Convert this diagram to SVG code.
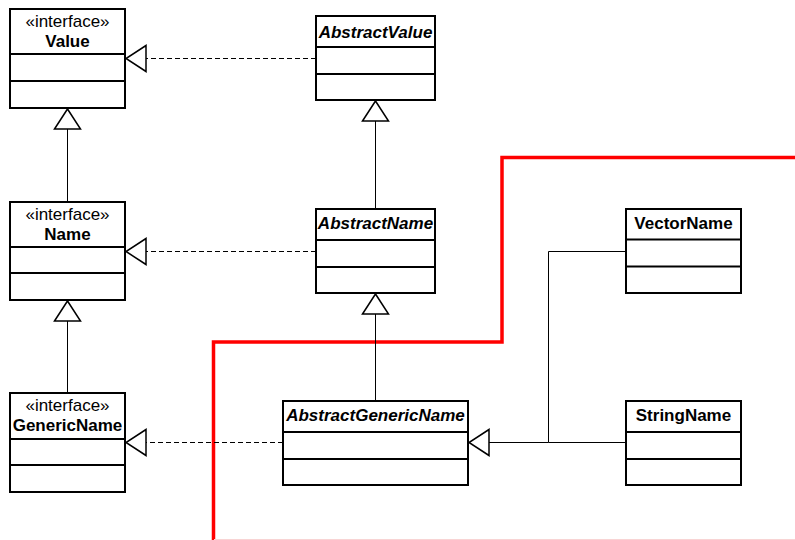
<svg xmlns="http://www.w3.org/2000/svg" width="795" height="540" viewBox="0 0 795 540">
  <style>
    .box { fill: #ffffff; stroke: #000000; stroke-width: 2; }
    .div { stroke: #000000; stroke-width: 2; }
    .stereo { font-family: "Liberation Sans", Arial, sans-serif; font-size: 17px; text-anchor: middle; fill: #000; }
    .name { font-family: "Liberation Sans", Arial, sans-serif; font-size: 17px; font-weight: bold; text-anchor: middle; fill: #000; }
    .abstract { font-style: italic; }
    .gen { fill: none; stroke: #000000; stroke-width: 1; }
    .real { fill: none; stroke: #000000; stroke-width: 1; stroke-dasharray: 5 3; }
    .bound { fill: none; stroke: #ff0000; stroke-width: 3.5; }
  </style>
  <defs>
    <marker id="hollow" viewBox="0 0 20 26" refX="20" refY="13" markerWidth="20" markerHeight="26" markerUnits="userSpaceOnUse" orient="auto" overflow="visible">
      <path d="M0,0 L20,13 L0,26 Z" fill="#ffffff" stroke="#000000" stroke-width="1.5" stroke-dasharray="none"/>
    </marker>
  </defs>

  <rect width="795" height="540" fill="#ffffff"/>

  <!-- package boundary -->
  <path class="bound" d="M213.5,540 V342 H502 V157.5 H795"/>
  <path d="M214,539.5 H795" fill="none" stroke="#f8d4d4" stroke-width="1"/>

  <g id="connectors">
    <!-- realizations -->
    <path class="real" d="M316,58.5 H126" marker-end="url(#hollow)"/>
    <path class="real" d="M316,251.5 H126" marker-end="url(#hollow)"/>
    <path class="real" d="M283,442.5 H126" marker-end="url(#hollow)"/>
    <!-- generalizations -->
    <path class="gen" d="M67.5,202 V109" marker-end="url(#hollow)"/>
    <path class="gen" d="M67.5,393 V301" marker-end="url(#hollow)"/>
    <path class="gen" d="M375.5,209 V101" marker-end="url(#hollow)"/>
    <path class="gen" d="M375.5,401 V294" marker-end="url(#hollow)"/>
    <path class="gen" d="M625,251.5 H548.5 V442.5 H469" marker-end="url(#hollow)"/>
    <path class="gen" d="M625,442.5 H548.5"/>
  </g>

  <g id="Value">
    <rect class="box" x="10" y="9" width="115" height="99"/>
    <line class="div" x1="10" y1="54" x2="125" y2="54"/>
    <line class="div" x1="10" y1="81" x2="125" y2="81"/>
    <text class="stereo" x="67.5" y="27">«interface»</text>
    <text class="name" x="67.5" y="47">Value</text>
  </g>

  <g id="Name">
    <rect class="box" x="10" y="202" width="115" height="98"/>
    <line class="div" x1="10" y1="247" x2="125" y2="247"/>
    <line class="div" x1="10" y1="273" x2="125" y2="273"/>
    <text class="stereo" x="67.5" y="220">«interface»</text>
    <text class="name" x="67.5" y="240">Name</text>
  </g>

  <g id="GenericName">
    <rect class="box" x="10" y="393" width="115" height="99"/>
    <line class="div" x1="10" y1="439" x2="125" y2="439"/>
    <line class="div" x1="10" y1="465" x2="125" y2="465"/>
    <text class="stereo" x="67.5" y="411">«interface»</text>
    <text class="name" x="67.5" y="431">GenericName</text>
  </g>

  <g id="AbstractValue">
    <rect class="box" x="316" y="16" width="119" height="84"/>
    <line class="div" x1="316" y1="47" x2="435" y2="47"/>
    <line class="div" x1="316" y1="74" x2="435" y2="74"/>
    <text class="name abstract" x="375.5" y="38">AbstractValue</text>
  </g>

  <g id="AbstractName">
    <rect class="box" x="316" y="209" width="119" height="84"/>
    <line class="div" x1="316" y1="240" x2="435" y2="240"/>
    <line class="div" x1="316" y1="267" x2="435" y2="267"/>
    <text class="name abstract" x="375.5" y="229">AbstractName</text>
  </g>

  <g id="AbstractGenericName">
    <rect class="box" x="283" y="401" width="185" height="84"/>
    <line class="div" x1="283" y1="432" x2="468" y2="432"/>
    <line class="div" x1="283" y1="459" x2="468" y2="459"/>
    <text class="name abstract" x="375.5" y="421">AbstractGenericName</text>
  </g>

  <g id="VectorName">
    <rect class="box" x="626" y="209" width="115" height="84"/>
    <line class="div" x1="626" y1="239.5" x2="741" y2="239.5"/>
    <line class="div" x1="626" y1="266.5" x2="741" y2="266.5"/>
    <text class="name" x="683.5" y="229">VectorName</text>
  </g>

  <g id="StringName">
    <rect class="box" x="626" y="401" width="115" height="84"/>
    <line class="div" x1="626" y1="432" x2="741" y2="432"/>
    <line class="div" x1="626" y1="459" x2="741" y2="459"/>
    <text class="name" x="683.5" y="421">StringName</text>
  </g>
</svg>
